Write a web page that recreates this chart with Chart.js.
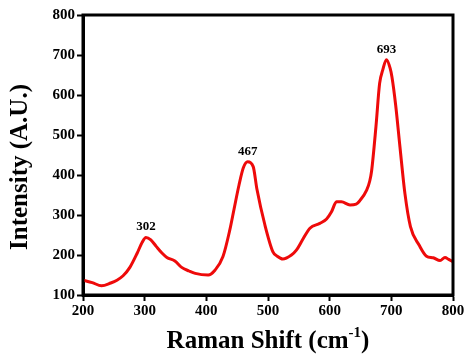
<!DOCTYPE html>
<html>
<head>
<meta charset="utf-8">
<script src="https://cdn.jsdelivr.net/npm/chart.js@4.4.0/dist/chart.umd.min.js"></script>
<style>
  html, body { margin: 0; padding: 0; background: #fff; }
  #wrap { width: 474px; height: 360px; }
</style>
</head>
<body>
<div id="wrap"><canvas id="mycanvas"></canvas></div>
<script>
// Raman spectrum
const shift = [200, 215, 230, 245, 255, 265, 276, 288, 296, 302, 310, 319, 328, 336, 349, 360, 372, 382, 403, 414,
  427, 438, 445, 453, 460, 467, 476, 482, 495, 508, 515, 524, 538, 546, 556, 568, 584, 595, 603, 611,
  619, 633, 643, 649, 660, 665, 668, 675, 681, 686, 692, 698, 701, 707, 714, 722, 731, 745, 757, 768,
  779, 787, 793, 800];
const intensity = [137, 131, 123, 130, 137, 148, 169, 205, 232, 244, 238, 221, 205, 194, 185, 169, 160, 154, 150, 162,
  196, 262, 315, 375, 418, 433, 421, 365, 275, 208, 197, 190, 200, 212, 238, 267, 279, 290, 308, 333,
  333, 325, 327, 336, 362, 385, 410, 520, 629, 662, 688, 667, 645, 575, 470, 354, 271, 225, 197, 193,
  186, 194, 189, 183];
const peakLabels = ['302', '467', '693'];
const peakX = [302, 467, 692];
const peakY = [244, 433, 688];

const xTicks = [200, 300, 400, 500, 600, 700, 800];
const yTicks = [100, 200, 300, 400, 500, 600, 700, 800];

const serif = '"Liberation Serif", "Times New Roman", serif';

// frame, peak labels and axis titles
const extras = {
  id: 'extras',
  afterDraw(chart) {
    const ctx = chart.ctx;
    const a = chart.chartArea;
    const xs = chart.scales.x, ys = chart.scales.y;
    ctx.save();
    ctx.strokeStyle = '#000';
    ctx.lineWidth = 3;
    ctx.strokeRect(a.left, a.top, a.right - a.left, a.bottom - a.top);

    ctx.fillStyle = '#000';
    ctx.font = 'bold 13px ' + serif;
    ctx.textAlign = 'center';
    ctx.textBaseline = 'bottom';
    for (let i = 0; i < peakLabels.length; i++) {
      ctx.fillText(peakLabels[i], xs.getPixelForValue(peakX[i]), ys.getPixelForValue(peakY[i]) - 4);
    }

    // x title with superscript
    ctx.textBaseline = 'alphabetic';
    ctx.textAlign = 'left';
    const big = 'bold 25px ' + serif, small = 'bold 15px ' + serif;
    const p1 = 'Raman Shift (cm', p2 = '-1', p3 = ')';
    ctx.font = big;
    const w1 = ctx.measureText(p1).width, w3 = ctx.measureText(p3).width;
    ctx.font = small;
    const w2 = ctx.measureText(p2).width;
    let x = (a.left + a.right) / 2 - (w1 + w2 + w3) / 2;
    const base = 348;
    ctx.font = big; ctx.fillText(p1, x, base); x += w1;
    ctx.font = small; ctx.fillText(p2, x, base - 11); x += w2;
    ctx.font = big; ctx.fillText(p3, x, base);

    // y title
    ctx.translate(27, 167);
    ctx.rotate(-Math.PI / 2);
    ctx.textAlign = 'center';
    ctx.font = 'bold 25px ' + serif;
    ctx.fillText('Intensity (A.U.)', 0, 0);
    ctx.restore();
  }
};

const config = {
  type: 'line',
  data: {
    datasets: [{
      data: shift.map((s, i) => ({ x: s, y: intensity[i] })),
      borderColor: '#ee0a0a',
      borderWidth: 3,
      pointRadius: 0,
      fill: false,
      cubicInterpolationMode: 'monotone'
    }]
  },
  options: {
    responsive: true,
    maintainAspectRatio: false,
    animation: false,
    layout: { padding: { top: 15, right: 21, left: 0, bottom: 0 } },
    plugins: { legend: { display: false }, tooltip: { enabled: false } },
    scales: {
      x: {
        type: 'linear',
        min: 200, max: 800,
        afterFit: s => { s.height = 65; },
        afterBuildTicks: s => { s.ticks = xTicks.map(v => ({ value: v })); },
        border: { display: true, color: '#000', width: 3 },
        grid: { drawOnChartArea: false, drawTicks: true, tickLength: 6, color: '#000', tickWidth: 2 },
        ticks: { color: '#000', font: { family: serif, size: 15, weight: 'bold' }, padding: 1, maxRotation: 0 }
      },
      y: {
        min: 100, max: 800,
        afterFit: s => { s.width = 83; },
        afterBuildTicks: s => { s.ticks = yTicks.map(v => ({ value: v })); },
        border: { display: true, color: '#000', width: 3 },
        grid: { drawOnChartArea: false, drawTicks: true, tickLength: 6, color: '#000', tickWidth: 2 },
        ticks: { color: '#000', font: { family: serif, size: 15, weight: 'bold' }, padding: 2 }
      }
    }
  },
  plugins: [extras]
};

const myChart = new Chart(document.getElementById('mycanvas'), config);
</script>
</body>
</html>
